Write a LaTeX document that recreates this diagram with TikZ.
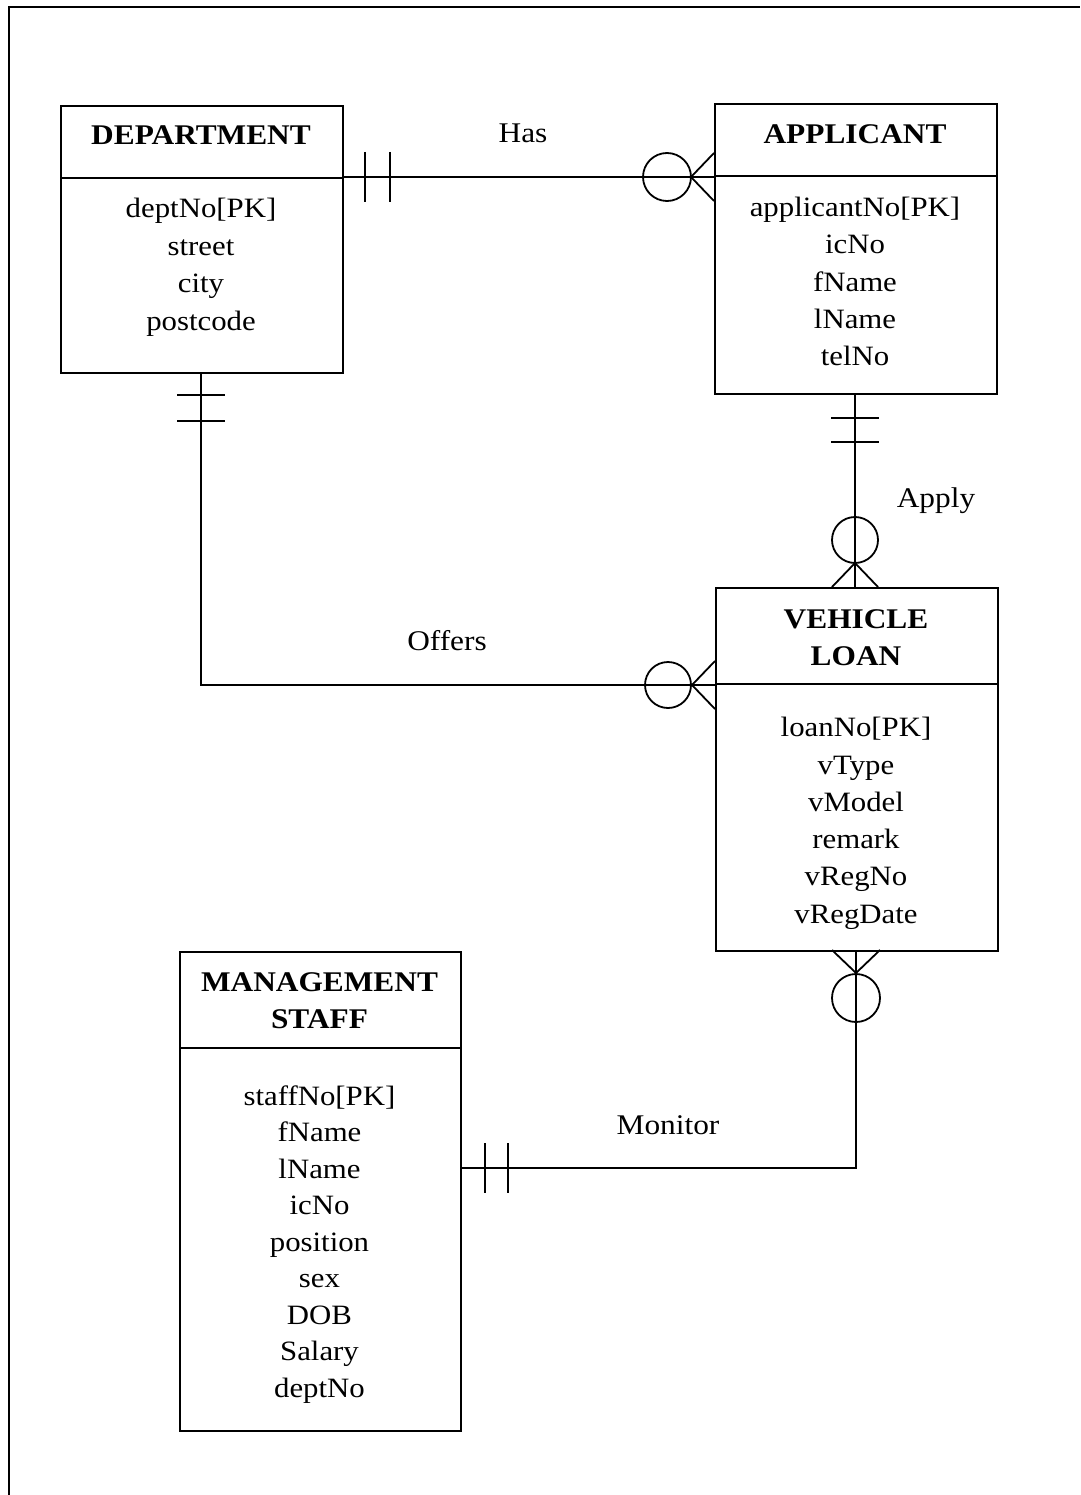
\documentclass[tikz,border=0pt]{standalone}
\usepackage{fontspec}
\setmainfont{Liberation Serif}[FakeStretch=1.1]
\usetikzlibrary{calc}
\begin{document}
\begin{tikzpicture}[x=1pt,y=-1pt,
  ebox/.style={draw,line width=2pt,inner sep=0,anchor=north west},
  sepline/.style={line width=1.8pt},
  conn/.style={line width=1.8pt},
  txt/.style={anchor=base,inner sep=0,font=\fontsize{28}{32}\selectfont},
  hdr/.style={anchor=base,inner sep=0,font=\fontsize{28.5}{32}\selectfont\bfseries},
  lbl/.style={anchor=base,inner sep=0,font=\fontsize{28.5}{32}\selectfont}]
\useasboundingbox (0,0) rectangle (1080,1495);
% frame
\coordinate (fb) at (9,1495);
\coordinate (fc) at (9,7);
\coordinate (fr) at (1080,7);
\draw[line width=2.4pt] (fb) -- (fc) -- (fr);

% boxes
\node[ebox,minimum width=282pt,minimum height=267pt] (dept) at (60,105) {};
\node[ebox,minimum width=282pt,minimum height=290pt] (app) at (714,103) {};
\node[ebox,minimum width=282pt,minimum height=363pt] (loan) at (715,587) {};
\node[ebox,minimum width=281pt,minimum height=479pt] (staff) at (179,951) {};
\draw[sepline] (dept.west |- 0,178) -- (dept.east |- 0,178);
\draw[sepline] (app.west |- 0,176) -- (app.east |- 0,176);
\draw[sepline] (loan.west |- 0,684) -- (loan.east |- 0,684);
\draw[sepline] (staff.west |- 0,1048) -- (staff.east |- 0,1048);

% DEPARTMENT text
\node[hdr] (dh) at (201,145) {DEPARTMENT};
\node[txt] (d1) at (201,218) {deptNo[PK]};
\node[txt] (d2) at (201,255.5) {street};
\node[txt] (d3) at (201,293) {city};
\node[txt] (d4) at (201,330.5) {postcode};

% APPLICANT text
\node[hdr] (ah) at (855,144) {APPLICANT};
\node[txt] (a1) at (855,217) {applicantNo[PK]};
\node[txt] (a2) at (855,254) {icNo};
\node[txt] (a3) at (855,291) {fName};
\node[txt] (a4) at (855,328) {lName};
\node[txt] (a5) at (855,365) {telNo};

% VEHICLE LOAN text
\node[hdr] (lh1) at (856,628) {VEHICLE};
\node[hdr] (lh2) at (856,665) {LOAN};
\node[txt] (l1) at (856,736) {loanNo[PK]};
\node[txt] (l2) at (856,774) {vType};
\node[txt] (l3) at (856,811) {vModel};
\node[txt] (l4) at (856,848) {remark};
\node[txt] (l5) at (856,885) {vRegNo};
\node[txt] (l6) at (856,923) {vRegDate};

% MANAGEMENT STAFF text
\node[hdr] (sh1) at (319.5,991) {MANAGEMENT};
\node[hdr] (sh2) at (319.5,1028) {STAFF};
\node[txt] (s1) at (319.5,1105) {staffNo[PK]};
\node[txt] (s2) at (319.5,1141.5) {fName};
\node[txt] (s3) at (319.5,1178) {lName};
\node[txt] (s4) at (319.5,1214.5) {icNo};
\node[txt] (s5) at (319.5,1251) {position};
\node[txt] (s6) at (319.5,1287.5) {sex};
\node[txt] (s7) at (319.5,1324) {DOB};
\node[txt] (s8) at (319.5,1360.5) {Salary};
\node[txt] (s9) at (319.5,1397) {deptNo};

% Has
\coordinate (hasA) at (dept.east |- 0,177);
\coordinate (hasB) at (app.west |- 0,177);
\draw[conn] (hasA) -- (hasB);
\draw[conn] ($(hasA)+(21,-25)$) -- ($(hasA)+(21,25)$);
\draw[conn] ($(hasA)+(46,-25)$) -- ($(hasA)+(46,25)$);
\draw[conn] ($(hasB)+(-47,0)$) circle (24);
\draw[conn] ($(hasB)+(0,-24)$) -- ($(hasB)+(-23,0)$) -- ($(hasB)+(0,24)$);
\node[lbl] (hasL) at (523,143) {Has};

% Apply
\coordinate (apA) at (855,393);
\coordinate (apB) at (855,587);
\draw[conn] (apA) -- (apB);
\draw[conn] ($(apA)+(-24,25)$) -- ($(apA)+(24,25)$);
\draw[conn] ($(apA)+(-24,49)$) -- ($(apA)+(24,49)$);
\draw[conn] ($(apB)+(0,-47)$) circle (23);
\draw[conn] ($(apB)+(-23,0)$) -- ($(apB)+(0,-24)$) -- ($(apB)+(23,0)$);
\node[lbl] (apL) at (936,507) {Apply};

% Offers
\coordinate (ofA) at (201,372);
\coordinate (ofC) at (201,685);
\coordinate (ofB) at (loan.west |- 0,685);
\draw[conn] (ofA) -- (ofC) -- (ofB);
\draw[conn] ($(ofA)+(-24,23)$) -- ($(ofA)+(24,23)$);
\draw[conn] ($(ofA)+(-24,49)$) -- ($(ofA)+(24,49)$);
\draw[conn] ($(ofB)+(-47,0)$) circle (23);
\draw[conn] ($(ofB)+(0,-24)$) -- ($(ofB)+(-23,0)$) -- ($(ofB)+(0,24)$);
\node[lbl] (ofL) at (447,650) {Offers};

% Monitor
\coordinate (moA) at (staff.east |- 0,1168);
\coordinate (moC) at (856,1168);
\coordinate (moB) at (856,950);
\draw[conn] (moA) -- (moC) -- (moB);
\draw[conn] ($(moA)+(23,-25)$) -- ($(moA)+(23,25)$);
\draw[conn] ($(moA)+(46,-25)$) -- ($(moA)+(46,25)$);
\draw[conn] ($(moB)+(0,48)$) circle (24);
\draw[conn] ($(moB)+(-24,0)$) -- ($(moB)+(0,23)$) -- ($(moB)+(24,0)$);
\node[lbl] (moL) at (668,1134) {Monitor};
\end{tikzpicture}
\end{document}
